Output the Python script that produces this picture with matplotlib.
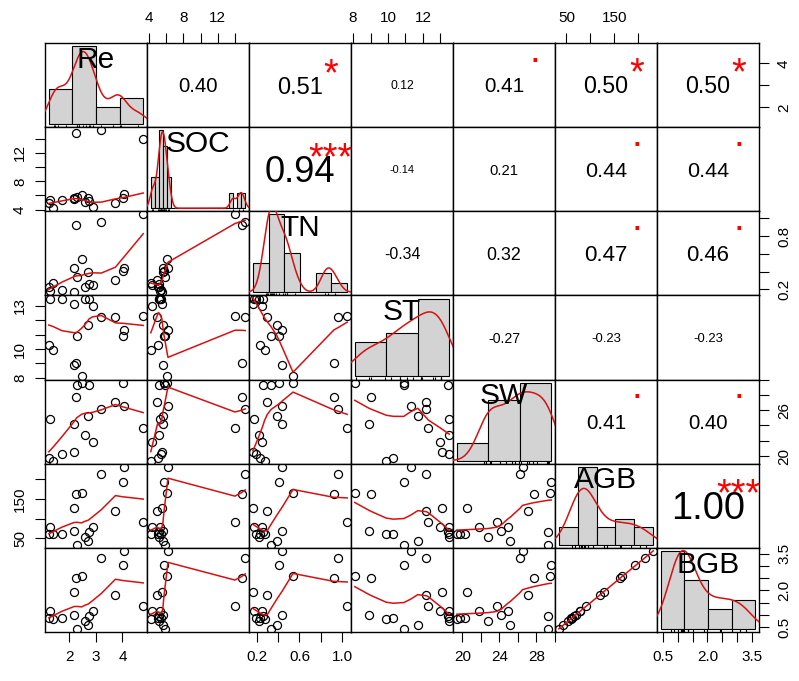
import numpy as np
import matplotlib
matplotlib.use('Agg')
import matplotlib.pyplot as plt
from matplotlib import transforms

plt.rcParams['font.family'] = ['Liberation Sans', 'DejaVu Sans']

names = ['Re', 'SOC', 'TN', 'ST', 'SW', 'AGB', 'BGB']

# one value per plot (18 plots)
Re = [1.27, 1.24, 1.41, 1.73, 2.19, 2.20, 2.26, 2.28, 2.47, 2.59, 2.71, 2.75, 2.88, 3.21, 3.74, 4.02, 4.05, 4.78]
SOC = [5.3, 5.0, 4.2, 5.4, 5.5, 5.6, 14.8, 5.8, 6.1, 5.1, 5.6, 5.2, 4.3, 15.2, 4.9, 5.7, 6.2, 14.0]
TN = [0.175, 0.23, 0.275, 0.195, 0.165, 0.44, 0.92, 0.335, 0.54, 0.22, 0.39, 0.26, 0.25, 0.955, 0.30, 0.41, 0.44, 1.045]
ST = [13.5, 10.3, 9.9, 13.5, 13.1, 8.9, 9.05, 10.9, 8.1, 13.5, 11.7, 13.45, 13.0, 12.2, 12.2, 10.9, 11.3, 12.3]
SW = [24.9, 19.7, 19.4, 20.3, 20.5, 24.2, 27.7, 29.3, 29.5, 22.8, 25.2, 29.3, 21.8, 26.2, 27.1, 29.6, 26.5, 23.7]
AGB = [78, 62, 60, 60, 128, 70, 162, 34, 166, 53, 43, 66, 78, 214, 120, 192, 231, 91]
BGB = [1.14, 0.88, 0.85, 0.86, 1.95, 0.99, 2.50, 0.43, 2.57, 0.74, 0.58, 0.95, 1.15, 3.34, 1.82, 3.03, 3.61, 1.35]
data = [np.array(v, float) for v in (Re, SOC, TN, ST, SW, AGB, BGB)]

# correlation text of the upper panels, row by row
cor_re = ['0.40', '0.51', '0.12', '0.41', '0.50', '0.50']
cor_soc = ['0.94', '-0.14', '0.21', '0.44', '0.44']
cor_tn = ['-0.34', '0.32', '0.47', '0.46']
cor_st = ['-0.27', '-0.23', '-0.23']
cor_sw = ['0.41', '0.40']
cor_agb = ['1.00']
sig_re = ['', '*', '', '.', '*', '*']
sig_soc = ['***', '', '', '.', '.']
sig_tn = ['', '', '.', '.']
sig_st = ['', '', '']
sig_sw = ['.', '.']
sig_agb = ['***']
cor_rows = [cor_re, cor_soc, cor_tn, cor_st, cor_sw, cor_agb]
sig_rows = [sig_re, sig_soc, sig_tn, sig_st, sig_sw, sig_agb]

# axis ticks and their labels (top/bottom, left/right)
ticks = [[2, 3, 4], [4, 6, 8, 10, 12, 14], [0.2, 0.4, 0.6, 0.8, 1.0],
         [8, 9, 10, 11, 12, 13], [20, 22, 24, 26, 28, 30], [50, 100, 150, 200],
         [0.5, 1.0, 1.5, 2.0, 2.5, 3.0, 3.5]]
xlabs = [['2', '3', '4'], ['4', '', '8', '', '12', ''], ['0.2', '', '0.6', '', '1.0'],
         ['8', '', '10', '', '12', ''], ['20', '', '24', '', '28', ''], ['50', '', '150', ''],
         ['0.5', '', '', '2.0', '', '', '3.5']]
ylabs = [['2', '', '4'], ['4', '', '8', '', '12', ''], ['0.2', '', '', '0.8', ''],
         ['8', '', '10', '', '', '13'], ['20', '', '', '26', '', ''], ['50', '', '150', ''],
         ['0.5', '', '', '2.0', '', '', '3.5']]

RED = '#d81010'


def r_pretty(lo, hi, n):
    cell = (hi - lo) / n
    U = 10 ** np.floor(np.log10(cell))
    unit = U
    if 2 * U - cell < 1.5 * (cell - unit):
        unit = 2 * U
        if 5 * U - cell < 2.75 * (cell - unit):
            unit = 5 * U
            if 10 * U - cell < 1.5 * (cell - unit):
                unit = 10 * U
    ns = np.floor(lo / unit + 1e-7)
    nu = np.ceil(hi / unit - 1e-7)
    return np.arange(ns, nu + 1) * unit


def fd_breaks(v):
    q75, q25 = np.percentile(v, [75, 25])
    h = 2 * (q75 - q25)
    k = max(1, int(np.ceil((v.max() - v.min()) / (h * len(v) ** (-1 / 3)))))
    return r_pretty(v.min(), v.max(), k)


def kde(v):
    n = len(v)
    q75, q25 = np.percentile(v, [75, 25])
    bw = 0.9 * min(v.std(ddof=1), (q75 - q25) / 1.34) * n ** -0.2
    g = np.linspace(v.min() - 3 * bw, v.max() + 3 * bw, 512)
    d = np.exp(-0.5 * ((g[:, None] - v[None, :]) / bw) ** 2).sum(1) / (n * bw * np.sqrt(2 * np.pi))
    return g, d


def lowess(x, y, f=2 / 3, it=3):
    o = np.argsort(x, kind='mergesort')
    x = x[o]
    y = y[o]
    n = len(x)
    ns = max(2, min(n, int(f * n + 1e-7)))
    rw = np.ones(n)
    ys = np.zeros(n)
    for k in range(it + 1):
        for i in range(n):
            d = np.abs(x - x[i])
            h = np.sort(d)[ns - 1]
            if h > 0:
                r = d / h
                w = np.where(r <= 0.999, np.where(r <= 0.001, 1.0, (1 - r ** 3) ** 3), 0.0)
            else:
                w = (d == 0).astype(float)
            w = w * rw
            if w.sum() <= 0:
                ys[i] = y[i]
                continue
            w = w / w.sum()
            if h > 0:
                a = np.sum(w * x)
                c = np.sum(w * (x - a) ** 2)
                if np.sqrt(c) > 0.001 * (x[-1] - x[0]):
                    w = w * ((x[i] - a) / c * (x - a) + 1)
            ys[i] = np.sum(w * y)
        if k == it:
            break
        res = np.abs(y - ys)
        cmad = 6 * np.median(res)
        if cmad < 1e-7 * np.mean(np.abs(y)):
            break
        u = res / cmad
        rw = np.where(u <= 0.001, 1.0, np.where(u <= 0.999, (1 - u ** 2) ** 2, 0.0))
    return x, ys


def put(ax, x, y, s, fs, lift, **kw):
    tr = transforms.offset_copy(ax.transAxes, fig=ax.figure, x=0, y=-lift * fs, units='points')
    return ax.text(x, y, s, transform=tr, fontsize=fs, ha='center', va='baseline', **kw)


W, H = 799, 681
X0, Y0 = 45, 43
PW, PH = 102, (632 - 43) / 7

fig = plt.figure(figsize=(W / 100, H / 100), dpi=100)
renderer = fig.canvas.get_renderer()

lims = []
for v in data:
    r = v.max() - v.min()
    lims.append((v.min() - 0.04 * r, v.max() + 0.04 * r))

nv = len(names)
for i in range(nv):
    for j in range(nv):
        rect = [(X0 + j * PW) / W, 1 - (Y0 + (i + 1) * PH) / H, PW / W, PH / H]
        ax = fig.add_axes(rect)
        ax.set_xlim(lims[j])
        ax.set_ylim(lims[i])
        ax.set_xticks([])
        ax.set_yticks([])
        for sp in ax.spines.values():
            sp.set_linewidth(1.0)
        ax.tick_params(direction='out', length=7, width=0.8, labelsize=11, pad=6)

        if i == 0 and j % 2 == 1:
            ax.set_xticks(ticks[j], labels=xlabs[j])
            ax.tick_params(axis='x', top=True, labeltop=True, bottom=False, labelbottom=False)
        if i == nv - 1 and j % 2 == 0:
            ax.set_xticks(ticks[j], labels=xlabs[j])
        if j == 0 and i % 2 == 1:
            ax.set_yticks(ticks[i], labels=ylabs[i], rotation=90, va='center')
        if j == nv - 1 and i % 2 == 0:
            ax.set_yticks(ticks[i], labels=ylabs[i], rotation=90, va='center')
            ax.tick_params(axis='y', right=True, labelright=True, left=False, labelleft=False)

        if i > j:
            x, y = data[j], data[i]
            ax.plot(x, y, 'o', mfc='none', mec='black', ms=5.8, mew=0.9)
            lx, ly = lowess(x, y)
            ax.plot(lx, ly, color=RED, lw=1.1)
        elif i < j:
            txt = cor_rows[i][j - i - 1]
            sig = sig_rows[i][j - i - 1]
            r = abs(float(txt))
            t = ax.text(0, 0, txt, fontsize=10)
            w10 = t.get_window_extent(renderer).width
            t.remove()
            full = 10 * 0.72 * PW / w10
            put(ax, 0.5, 0.5, txt, full * (r + 0.3) / 1.3, 0.358)
            if sig:
                lift = 0.05 if sig == '.' else 0.66
                put(ax, 0.8, 0.8, sig, full, lift, color='red', clip_on=True)
        else:
            v = data[i]
            br = fd_breaks(v)
            idx = np.clip(np.searchsorted(br, v, side='left') - 1, 0, len(br) - 2)
            cnt = np.bincount(idx, minlength=len(br) - 1)
            dens = cnt / (len(v) * np.diff(br))
            hax = fig.add_axes(rect, frameon=False)
            hax.set_axis_off()
            span = br[-1] - br[0]
            top = dens.max()
            hax.set_xlim(br[0] - 0.04 * span, br[-1] + 0.04 * span)
            hax.set_ylim(-0.04 * top, 1.04 * top)
            hax.bar(br[:-1], dens, width=np.diff(br), align='edge', color='#d3d3d3',
                    edgecolor='black', linewidth=0.8)
            g, d = kde(v)
            hax.plot(g, d, color=RED, lw=1.1)
            hax.vlines(v, -0.04 * top, -0.04 * top + 0.03 * 1.08 * top, colors='black', lw=0.8)
            put(hax, 0.5, 0.833, names[i], 21.5, 0.358)

fig.savefig('out.png', dpi=100)
